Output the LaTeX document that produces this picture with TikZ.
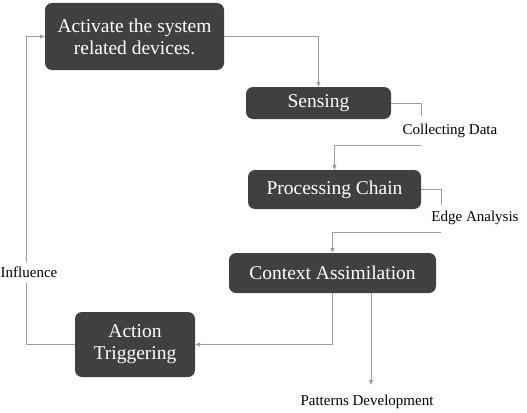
\documentclass[tikz,border=0pt]{standalone}
\usepackage{fontspec}
\setmainfont{Liberation Serif}
\usetikzlibrary{arrows.meta}
\begin{document}
\begin{tikzpicture}[x=1pt,y=-1pt,
    stage/.style={draw=none, fill=black!75, rounded corners=7pt, text=white,
        font=\fontsize{19.5}{22}\selectfont, align=center, inner sep=0pt},
    lbl/.style={font=\fontsize{15}{17}\selectfont, inner sep=1pt},
    link/.style={draw=black!38, line width=0.8pt},
    flow/.style={link, -{Triangle[length=5pt,width=4pt]}}]
\useasboundingbox (0,0) rectangle (527,412);
% Draw the stages
\node at (134.5,36.5) [stage, minimum width=179pt, minimum height=67pt] (act) {Activate the system\\related devices.};
\node at (318.5,103) [stage, minimum width=145pt, minimum height=32pt] (sense) {Sensing};
\node at (334.5,189.5) [stage, minimum width=173pt, minimum height=39pt] (proc) {Processing Chain};
\node at (332.5,273) [stage, minimum width=207pt, minimum height=40pt] (ctx) {Context Assimilation};
\node at (135,344.5) [stage, minimum width=120pt, minimum height=65pt] (trig) {Action\\Triggering};
% Labels on the links
\node at (450,131) [lbl] (collect) {Collecting Data};
\node at (475,218) [lbl] (edge) {Edge Analysis};
\node at (367,402) [lbl] (pattern) {Patterns Development};
\node at (29,272) [lbl] (infl) {Influence};
% Ends of the broken links
\coordinate (cdin) at (421,116);
\coordinate (cdout) at (421,145);
\coordinate (eain) at (441,205);
\coordinate (eaout) at (441,232);
\coordinate (pd) at (371,385);
\coordinate (inlo) at (26,283);
\coordinate (inhi) at (26,262);
% Draw the links
\draw[flow] (act.east) -| (sense.north);
\draw[link] (sense.east) -| (cdin);
\draw[flow] (cdout) -| (proc.north);
\draw[link] (proc.east) -| (eain);
\draw[flow] (eaout) -| (ctx.north);
\draw[flow] (ctx.south) |- (trig.east);
\draw[flow] (ctx.south -| pd) -- (pd);
\draw[link] (trig.west) -| (inlo);
\draw[flow] (inhi) |- (act.west);
\end{tikzpicture}
\end{document}
